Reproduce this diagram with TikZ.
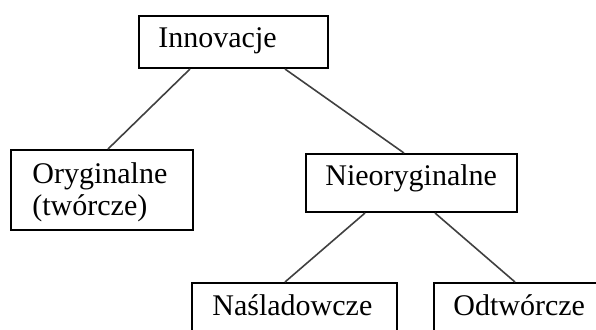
\documentclass[tikz,border=0pt]{standalone}
\usepackage{fontspec}
\setmainfont{Liberation Serif}
\usetikzlibrary{calc,positioning}

\tikzset{
  box/.style={draw=black, line width=1pt, rectangle, inner sep=0pt, anchor=north west},
  txt/.style={anchor=base west, inner sep=0pt, font=\fontsize{15}{17}\selectfont},
  link/.style={draw=black!75, line width=0.8pt}
}

\begin{document}
\begin{tikzpicture}[x=0.5pt, y=-0.5pt]
	\useasboundingbox (0,0) rectangle (596,329);
	\clip (0,0) rectangle (596,329);

	% boxes
	\node[box, minimum width=94.5pt, minimum height=26pt] (inn) at (138,15) {};
	\node[box, minimum width=91pt, minimum height=40pt] (ory) at (10,149) {};
	\node[box, minimum width=105.5pt, minimum height=29pt] (nie) at (305,153) {};
	\node[box, minimum width=102.5pt, minimum height=35pt] (nas) at (191,282) {};
	\node[box, minimum width=100pt, minimum height=35pt] (odt) at (433,282) {};

	% texts
	\node[txt] (innT) at (158,47) {Innovacje};
	\node[txt] (oryT) at (32,183) {Oryginalne};
	\node[txt] (oryT2) at (32,215) {(twórcze)};
	\node[txt] (nieT) at (325,185) {Nieoryginalne};
	\node[txt] (nasT) at (212,315) {Naśladowcze};
	\node[txt] (odtT) at (453,315) {Odtwórcze};

	% links
	\draw[link] ($(inn.south west)+(52,0)$) -- ($(ory.north west)+(98,0)$);
	\draw[link] ($(inn.south west)+(147,0)$) -- ($(nie.north west)+(99,0)$);
	\draw[link] ($(nie.south west)+(60,0)$) -- ($(nas.north west)+(94,0)$);
	\draw[link] ($(nie.south west)+(130,0)$) -- ($(odt.north west)+(82,0)$);
\end{tikzpicture}
\end{document}
